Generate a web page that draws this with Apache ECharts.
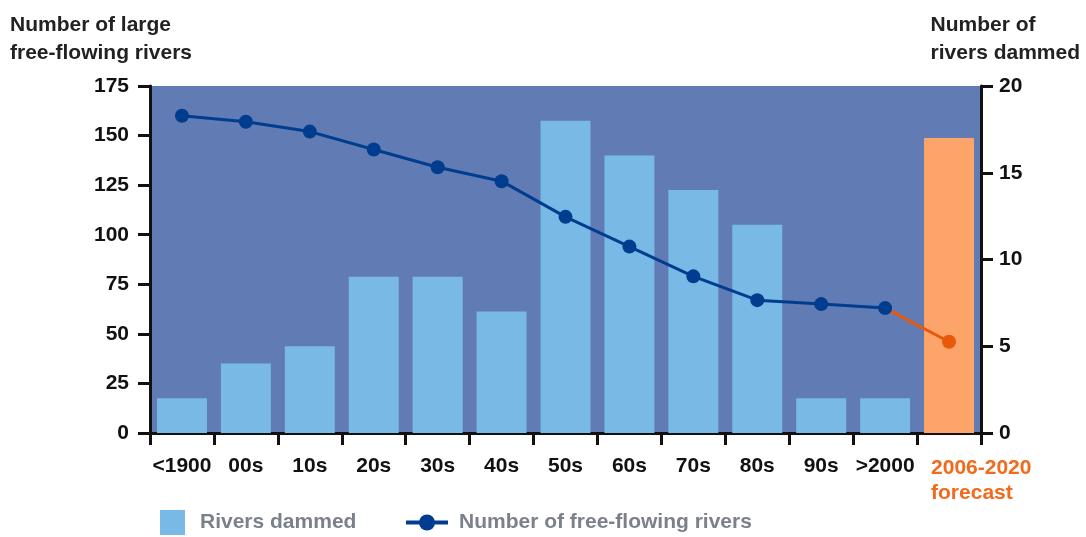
<!DOCTYPE html>
<html>
<head>
<meta charset="utf-8">
<script src="https://cdn.jsdelivr.net/npm/echarts@6/dist/echarts.min.js"></script>
<style>html,body{margin:0;padding:0;background:#fff}#c{width:1086px;height:537px}</style>
</head>
<body>
<div id="c"></div>
<script>
var categories = ['<1900','00s','10s','20s','30s','40s','50s','60s','70s','80s','90s','>2000','2006-2020 forecast'];
var riversDammed = [2,4,5,9,9,7,18,16,14,12,2,2,17];
var freeFlowing = [160,157,152,143,134,127,109,94,79,67,65,63,null];
var forecastLine = [null,null,null,null,null,null,null,null,null,null,null,63,46];
var leftTicks = {min:0,max:175,interval:25};
var rightTicks = {min:0,max:20,interval:5};

var FONT = '"Liberation Sans Narrow", "Liberation Sans", Arial, sans-serif';
var chart = echarts.init(document.getElementById('c'));
var lastIdx = categories.length - 1;

chart.setOption({
  animation:false,
  textStyle:{fontFamily:FONT},
  graphic:[
    {type:'text', left:10, top:11, style:{text:'Number of large\nfree-flowing rivers', font:'bold 21px '+FONT, fill:'#222', lineHeight:28}},
    {type:'text', right:6, top:11, style:{text:'Number of\nrivers dammed', font:'bold 21px '+FONT, fill:'#222', lineHeight:28, align:'left'}}
  ],
  grid:{left:150,right:105,top:86,bottom:104,show:true,backgroundColor:'#617bb4',borderWidth:0},
  legend:[
    {data:[{name:'Rivers dammed',icon:'rect'}], left:155, top:505, itemWidth:25, itemHeight:25, itemGap:8,
     textStyle:{fontFamily:FONT,fontSize:21,fontWeight:'bold',color:'#7b818b',padding:[0,0,0,10]}, selectedMode:false},
    {data:[{name:'Number of free-flowing rivers', lineStyle:{width:4}}], left:399, top:507, itemWidth:42, itemHeight:20, itemGap:8,
     textStyle:{fontFamily:FONT,fontSize:21,fontWeight:'bold',color:'#7b818b',padding:[0,0,0,6]}, selectedMode:false}
  ],
  xAxis:{
    type:'category', data:categories, boundaryGap:true,
    axisLine:{lineStyle:{color:'#111',width:3}},
    axisTick:{show:true,length:12,alignWithLabel:false,lineStyle:{color:'#111',width:3}},
    axisLabel:{interval:0, margin:23, fontFamily:FONT, fontSize:21, fontWeight:'bold', color:'#111',
      formatter:function(v,i){
        if(i===lastIdx){ return '{f|2006-2020}\n{g|forecast}'; }
        return v;
      },
      rich:{
        f:{color:'#f26a1b',fontFamily:FONT,fontSize:21,fontWeight:'bold',width:100,align:'left',padding:[0,0,0,64],lineHeight:25},
        g:{color:'#f26a1b',fontFamily:FONT,fontSize:21,fontWeight:'bold',width:100,align:'left',padding:[0,0,0,64],lineHeight:25}
      }
    }
  },
  yAxis:[
    {type:'value', min:leftTicks.min, max:leftTicks.max, interval:leftTicks.interval, position:'left',
     splitLine:{show:false},
     axisLine:{show:true,lineStyle:{color:'#111',width:3}},
     axisTick:{show:true,length:12,lineStyle:{color:'#111',width:3}},
     axisLabel:{margin:21,fontFamily:FONT,fontSize:21,fontWeight:'bold',color:'#111'}},
    {type:'value', min:rightTicks.min, max:rightTicks.max, interval:rightTicks.interval, position:'right',
     splitLine:{show:false},
     axisLine:{show:true,lineStyle:{color:'#111',width:3}},
     axisTick:{show:true,length:12,lineStyle:{color:'#111',width:3}},
     axisLabel:{margin:18,fontFamily:FONT,fontSize:21,fontWeight:'bold',color:'#111'}}
  ],
  series:[
    {name:'Rivers dammed', type:'bar', yAxisIndex:1, barWidth:50, itemStyle:{color:'#78b9e6'},
     data: riversDammed.map(function(v,i){ return i===lastIdx ? {value:v,itemStyle:{color:'#fda46a'}} : v; })},
    {name:'forecast', type:'line', yAxisIndex:0, data:forecastLine, symbol:'circle',
     symbolSize:function(v,p){ return p.dataIndex===lastIdx ? 14 : 0; },
     lineStyle:{color:'#e8590c',width:3}, itemStyle:{color:'#e8590c'}, z:3},
    {name:'Number of free-flowing rivers', type:'line', yAxisIndex:0, data:freeFlowing, symbol:'circle', symbolSize:14,
     lineStyle:{color:'#003d8f',width:3}, itemStyle:{color:'#003d8f'}, z:4}
  ]
});
</script>
</body>
</html>
